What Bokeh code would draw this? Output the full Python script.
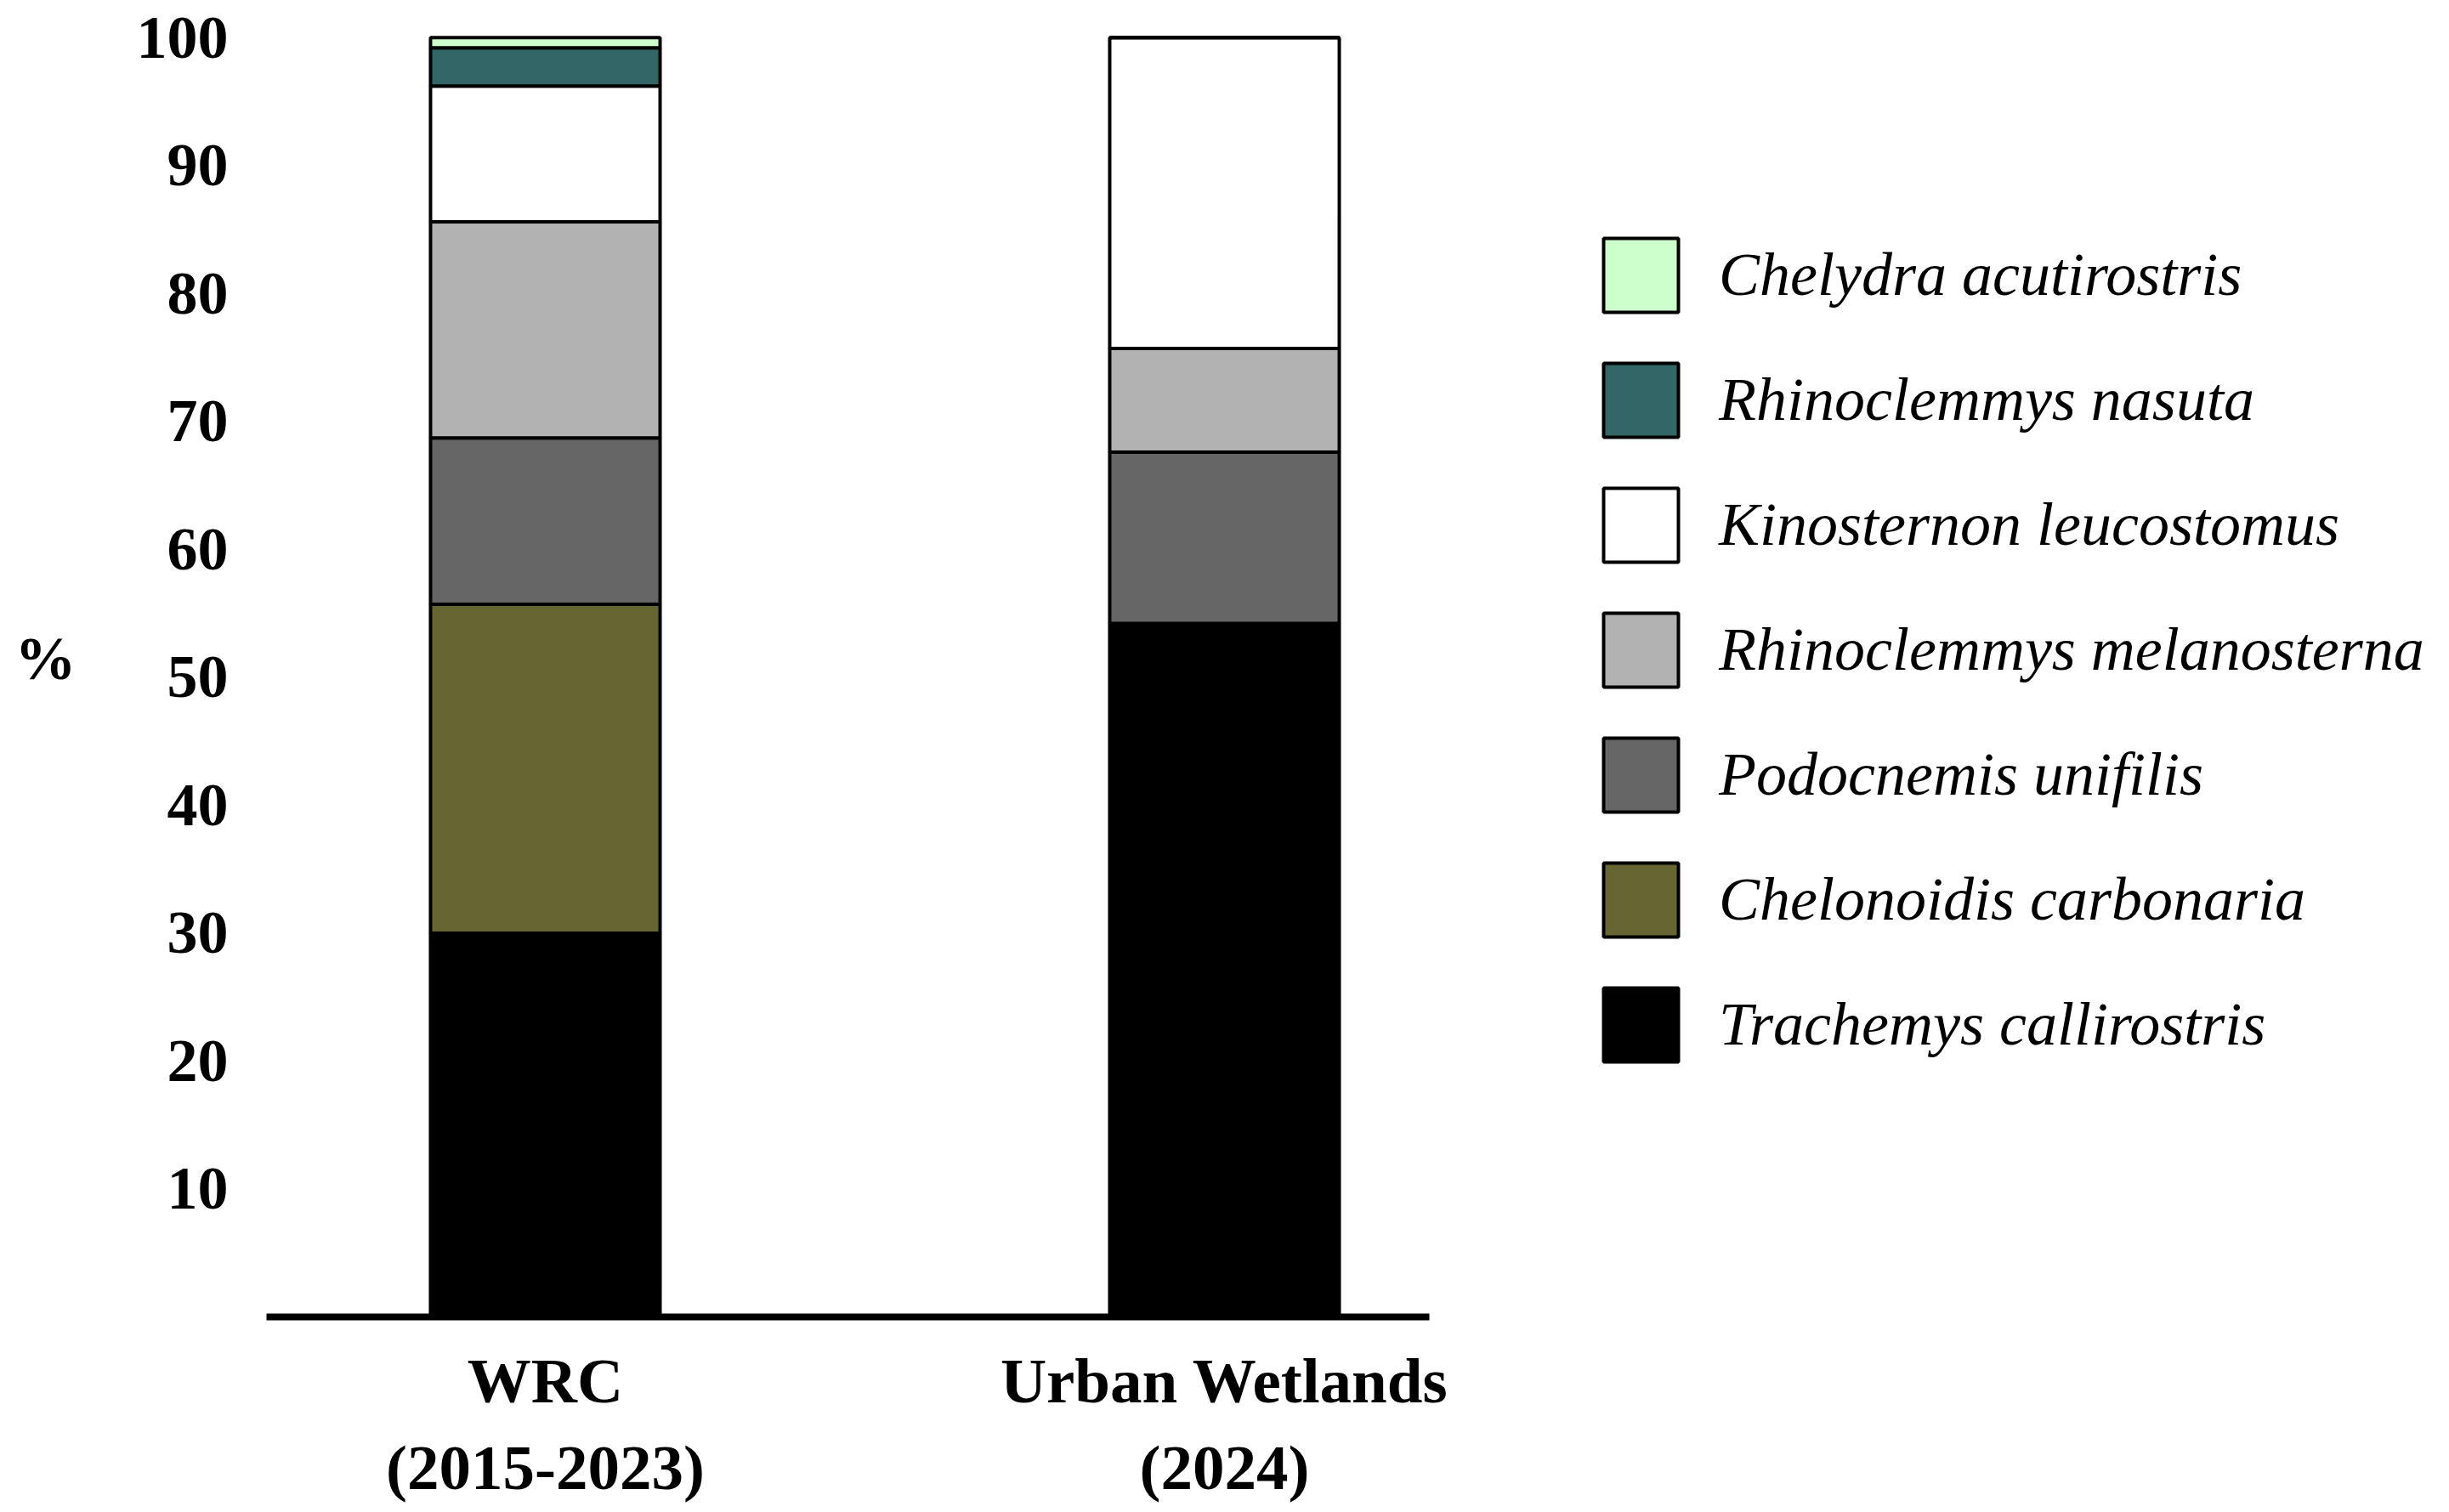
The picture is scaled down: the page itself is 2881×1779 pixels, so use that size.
from bokeh.plotting import figure
from bokeh.models import (ColumnDataSource, Range1d, FixedTicker, Legend, LegendItem)
from bokeh.embed import file_html
from bokeh.resources import INLINE

# ---- data ----
sites = ["WRC\n(2015-2023)", "Urban Wetlands\n(2024)"]
site_pos = [0, 1]
species = ["Trachemys callirostris", "Chelonoidis carbonaria", "Podocnemis unifilis",
           "Rhinoclemmys melanosterna", "Kinosternon leucostomus",
           "Rhinoclemmys nasuta", "Chelydra acutirostris"]
colors = ["#000000", "#666633", "#666666", "#B2B2B2", "#FFFFFF", "#336666", "#CCFFCC"]
wrc = [30.0, 25.7, 13.0, 16.9, 10.6, 3.0, 0.8]
urban = [54.2, 0.0, 13.4, 8.1, 24.3, 0.0, 0.0]
y_ticks = [10, 20, 30, 40, 50, 60, 70, 80, 90, 100]

data = {"x": site_pos}
for i, s in enumerate(species):
    data[s] = [wrc[i], urban[i]]
source = ColumnDataSource(data)

p = figure(width=2873, height=1771, output_backend="svg", toolbar_location=None,
           x_range=Range1d(-0.4105, 2.7935), y_range=Range1d(0, 102.9),
           min_border_left=313, min_border_right=0, min_border_top=0, min_border_bottom=220)
p.grid.visible = False
p.outline_line_color = None
p.background_fill_color = "white"

renderers = p.vbar_stack(species, x="x", width=0.338, source=source, color=colors,
                         line_color="black", line_width=4)
for r, c in zip(renderers, colors):
    r.glyph.fill_color = c
    r.glyph.line_color = "black"

# y axis
ya = p.yaxis[0]
ya.ticker = FixedTicker(ticks=y_ticks)
ya.axis_line_color = None
ya.major_tick_line_color = None
ya.minor_tick_line_color = None
ya.major_tick_out = 0
ya.major_label_standoff = 45
ya.major_label_text_font = "Liberation Serif"
ya.major_label_text_font_style = "bold"
ya.major_label_text_font_size = "72px"
ya.major_label_text_color = "black"
ya.axis_label = "%"
ya.axis_label_text_font = "Liberation Serif"
ya.axis_label_text_font_style = "bold"
ya.axis_label_text_font_size = "72px"
ya.axis_label_text_color = "black"
ya.axis_label_standoff = 68
try:
    ya.axis_label_orientation = "horizontal"
except Exception:
    pass

# x axis
xa = p.xaxis[0]
xa.ticker = FixedTicker(ticks=site_pos)
xa.major_label_overrides = {pos: lab for pos, lab in zip(site_pos, sites)}
xa.bounds = (-0.4105, 1.3016)
xa.axis_line_width = 8
xa.axis_line_color = "black"
xa.major_tick_line_color = None
xa.minor_tick_line_color = None
xa.major_tick_out = 0
xa.major_label_standoff = 33
xa.major_label_text_font = "Liberation Serif"
xa.major_label_text_font_style = "bold"
xa.major_label_text_font_size = "75px"
xa.major_label_text_color = "black"
try:
    xa.major_label_text_line_height = 1.24
except Exception:
    pass

# legend (top to bottom: reverse stacking order)
items = [LegendItem(label=s, renderers=[r]) for s, r in zip(species, renderers)][::-1]
legend = Legend(items=items, location=(1562, 289), orientation="vertical",
                glyph_width=110, glyph_height=109, spacing=38,
                padding=0, margin=0,
                label_standoff=37, label_text_font="Liberation Serif",
                label_text_font_style="italic", label_text_font_size="72px",
                label_text_color="black",
                border_line_color=None, background_fill_alpha=0)
p.add_layout(legend)

open("out.html", "w").write(file_html(p, INLINE))
